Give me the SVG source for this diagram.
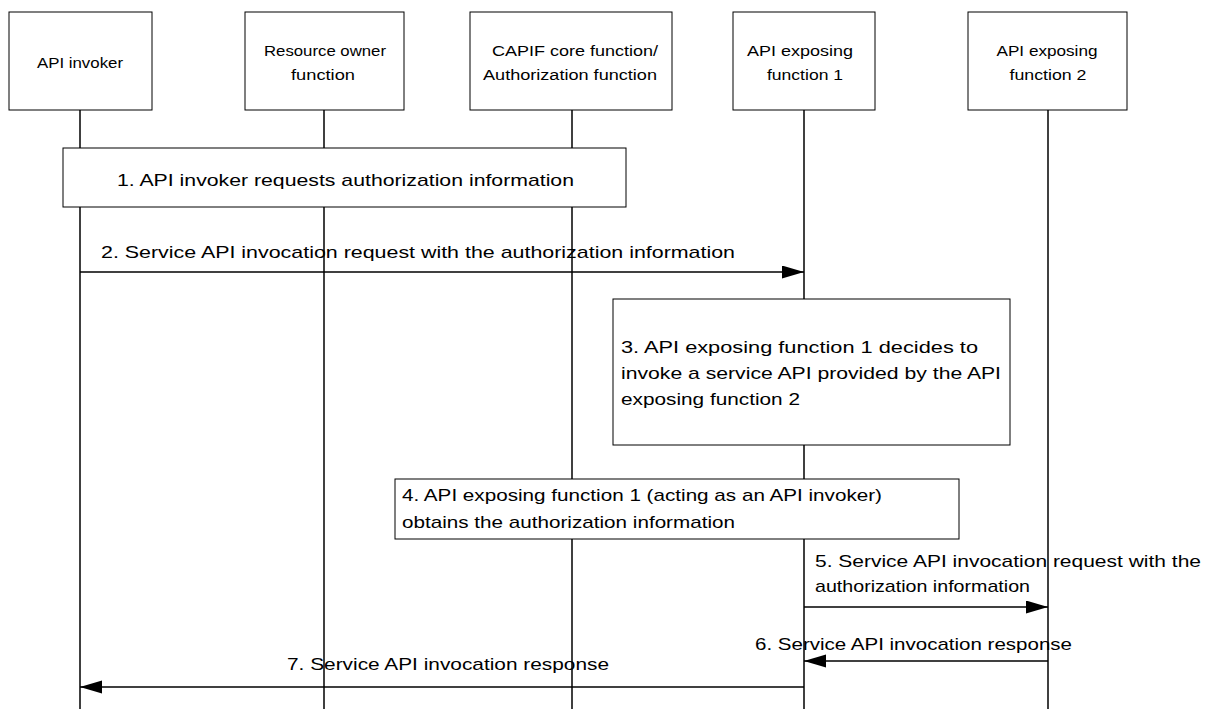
<svg xmlns="http://www.w3.org/2000/svg" width="1211" height="709" viewBox="0 0 1211 709">
<style>
.box{fill:#fff;stroke:#000;stroke-width:1}
.life{stroke:#000;stroke-width:1.5}
.msg{stroke:#000;stroke-width:1.5;fill:none}
.h{font-family:"Liberation Sans",Arial,sans-serif;font-size:15.5px;fill:#000;text-anchor:middle}
.t{font-family:"Liberation Sans",Arial,sans-serif;font-size:17px;fill:#000}
</style>
<defs>
<marker id="ah" markerUnits="userSpaceOnUse" markerWidth="24" markerHeight="14" refX="22" refY="6.5" orient="auto">
<path d="M0,0 L22,6.5 L0,13 z" fill="#000"/>
</marker>
</defs>
<rect width="1211" height="709" fill="#fff"/>
<g id="lifelines">
<line class="life" x1="80" y1="110" x2="80" y2="709"/>
<line class="life" x1="324" y1="110" x2="324" y2="709"/>
<line class="life" x1="572" y1="110" x2="572" y2="709"/>
<line class="life" x1="804" y1="110" x2="804" y2="709"/>
<line class="life" x1="1048" y1="110" x2="1048" y2="709"/>
</g>
<g id="api-invoker">
<rect class="box" x="9" y="12" width="143" height="98"/>
<text class="h" x="80" y="68" textLength="86" lengthAdjust="spacingAndGlyphs">API invoker</text>
</g>
<g id="resource-owner">
<rect class="box" x="245" y="12" width="159" height="98"/>
<text class="h" x="325" y="56" textLength="122" lengthAdjust="spacingAndGlyphs">Resource owner</text>
<text class="h" x="323" y="80" textLength="64" lengthAdjust="spacingAndGlyphs">function</text>
</g>
<g id="capif-core">
<rect class="box" x="470" y="12" width="202" height="98"/>
<text class="h" x="575" y="56" textLength="166" lengthAdjust="spacingAndGlyphs">CAPIF core function/</text>
<text class="h" x="570" y="80" textLength="174" lengthAdjust="spacingAndGlyphs">Authorization function</text>
</g>
<g id="aef1">
<rect class="box" x="733" y="12" width="142" height="98"/>
<text class="h" x="800" y="56" textLength="106" lengthAdjust="spacingAndGlyphs">API exposing</text>
<text class="h" x="805" y="80" textLength="76" lengthAdjust="spacingAndGlyphs">function 1</text>
</g>
<g id="aef2">
<rect class="box" x="968" y="12" width="159" height="98"/>
<text class="h" x="1047" y="56" textLength="101" lengthAdjust="spacingAndGlyphs">API exposing</text>
<text class="h" x="1048" y="80" textLength="77" lengthAdjust="spacingAndGlyphs">function 2</text>
</g>
<g id="step1">
<rect class="box" x="63" y="148" width="563" height="59"/>
<text class="t" x="117" y="186" textLength="457" lengthAdjust="spacingAndGlyphs">1. API invoker requests authorization information</text>
</g>
<g id="step3">
<rect class="box" x="613" y="299" width="397" height="146"/>
<text class="t" x="621" y="353" textLength="357" lengthAdjust="spacingAndGlyphs">3. API exposing function 1 decides to</text>
<text class="t" x="621" y="379" textLength="380" lengthAdjust="spacingAndGlyphs">invoke a service API provided by the API</text>
<text class="t" x="621" y="405" textLength="179" lengthAdjust="spacingAndGlyphs">exposing function 2</text>
</g>
<g id="step4">
<rect class="box" x="395" y="479" width="564" height="60"/>
<text class="t" x="402" y="501" textLength="480" lengthAdjust="spacingAndGlyphs">4. API exposing function 1 (acting as an API invoker)</text>
<text class="t" x="402" y="528" textLength="333" lengthAdjust="spacingAndGlyphs">obtains the authorization information</text>
</g>
<g id="connectors">
<line class="msg" x1="80" y1="272" x2="804" y2="272" marker-end="url(#ah)"/>
<text class="t" x="101" y="258" textLength="634" lengthAdjust="spacingAndGlyphs">2. Service API invocation request with the authorization information</text>
<line class="msg" x1="804" y1="607" x2="1048" y2="607" marker-end="url(#ah)"/>
<text class="t" x="815" y="567" textLength="386" lengthAdjust="spacingAndGlyphs">5. Service API invocation request with the</text>
<text class="t" x="815" y="592" textLength="215" lengthAdjust="spacingAndGlyphs">authorization information</text>
<line class="msg" x1="1048" y1="661" x2="804" y2="661" marker-end="url(#ah)"/>
<text class="t" x="755" y="650" textLength="317" lengthAdjust="spacingAndGlyphs">6. Service API invocation response</text>
<line class="msg" x1="804" y1="687" x2="80" y2="687" marker-end="url(#ah)"/>
<text class="t" x="287" y="670" textLength="322" lengthAdjust="spacingAndGlyphs">7. Service API invocation response</text>
</g>
</svg>
